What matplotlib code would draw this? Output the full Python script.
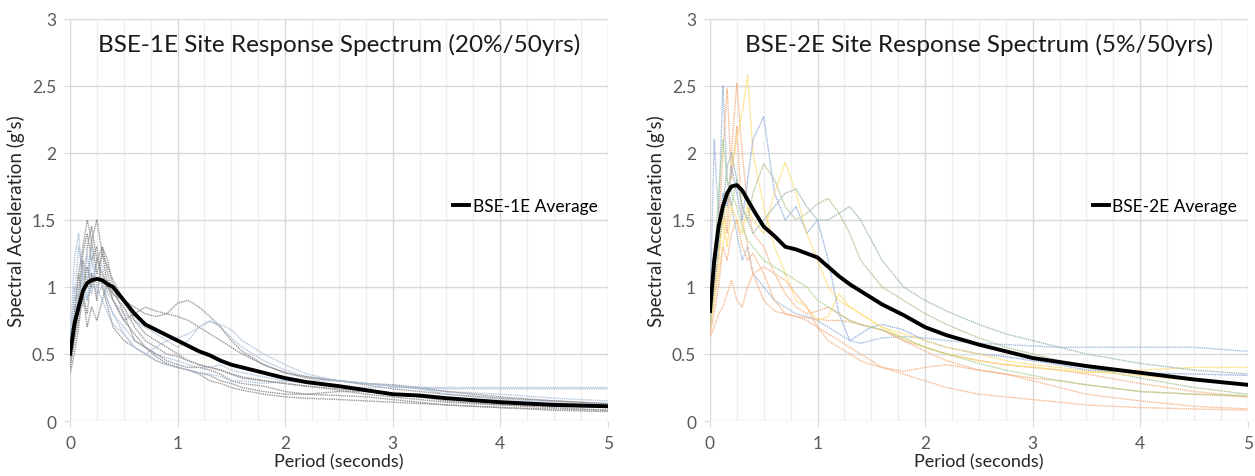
import numpy as np
import matplotlib.pyplot as plt
from matplotlib.ticker import MultipleLocator, FormatStrFormatter

plt.rcParams['font.family'] = ['Lato', 'DejaVu Sans']

# Period grid (seconds), shared by every record
period = [0, 0.04, 0.08, 0.12, 0.16, 0.2, 0.25, 0.3, 0.35, 0.4, 0.5, 0.6, 0.7,
          0.8, 0.9, 1.0, 1.1, 1.2, 1.3, 1.4, 1.5, 1.6, 1.8, 2.0, 2.2, 2.5,
          2.75, 3.0, 3.25, 3.5, 4.0, 4.5, 5.0]

# BSE-1E records (20%/50yrs)
bse1_records = [
    [0.45, 0.8, 1.1, 0.9, 1.3, 1.45, 1.2, 1.3, 1.1, 0.95, 0.85, 0.7, 0.6, 0.55, 0.5, 0.48, 0.45,
     0.42, 0.4, 0.38, 0.35, 0.33, 0.3, 0.28, 0.26, 0.24, 0.22, 0.2, 0.18, 0.17, 0.15, 0.13, 0.12],
    [0.4, 0.6, 0.9, 1.2, 1.0, 1.35, 1.5, 1.25, 1.0, 0.9, 0.75, 0.8, 0.85, 0.82, 0.8, 0.78, 0.75,
     0.7, 0.65, 0.6, 0.55, 0.5, 0.42, 0.36, 0.32, 0.3, 0.27, 0.24, 0.22, 0.2, 0.17, 0.15, 0.13],
    [0.55, 1.2, 1.4, 1.0, 0.9, 1.1, 0.95, 1.0, 0.9, 0.8, 0.7, 0.6, 0.55, 0.5, 0.47, 0.45, 0.42,
     0.4, 0.4, 0.42, 0.38, 0.36, 0.33, 0.3, 0.28, 0.26, 0.25, 0.25, 0.25, 0.25, 0.25, 0.25, 0.25],
    [0.35, 0.5, 0.7, 0.95, 0.8, 1.1, 0.9, 1.3, 1.2, 1.0, 0.8, 0.6, 0.55, 0.5, 0.45, 0.42, 0.4,
     0.4, 0.38, 0.35, 0.3, 0.28, 0.26, 0.22, 0.2, 0.19, 0.18, 0.16, 0.14, 0.12, 0.1, 0.08, 0.07],
    [0.6, 0.9, 1.3, 1.1, 1.25, 0.95, 1.2, 1.15, 0.95, 0.9, 0.8, 0.75, 0.7, 0.65, 0.6, 0.55, 0.6,
     0.7, 0.75, 0.7, 0.62, 0.55, 0.45, 0.38, 0.33, 0.3, 0.28, 0.26, 0.24, 0.22, 0.2, 0.17, 0.15],
    [0.5, 0.7, 0.95, 1.25, 1.4, 1.2, 1.3, 1.0, 0.85, 0.7, 0.6, 0.55, 0.5, 0.45, 0.42, 0.4, 0.38,
     0.35, 0.3, 0.28, 0.25, 0.23, 0.2, 0.18, 0.17, 0.16, 0.15, 0.14, 0.13, 0.12, 0.1, 0.09, 0.08],
    [0.5, 0.65, 0.8, 1.0, 1.15, 1.0, 1.2, 1.1, 1.0, 0.95, 0.9, 0.85, 0.8, 0.78, 0.8, 0.88, 0.9,
     0.85, 0.78, 0.7, 0.6, 0.52, 0.42, 0.36, 0.33, 0.3, 0.28, 0.27, 0.25, 0.22, 0.18, 0.15, 0.13],
    [0.45, 0.75, 1.0, 0.85, 1.1, 1.3, 1.0, 1.05, 0.9, 0.8, 0.65, 0.55, 0.5, 0.55, 0.6, 0.62, 0.65,
     0.7, 0.74, 0.72, 0.68, 0.6, 0.5, 0.42, 0.35, 0.3, 0.28, 0.26, 0.25, 0.24, 0.24, 0.24, 0.24],
    [0.4, 0.6, 0.75, 0.95, 0.7, 0.85, 0.75, 0.9, 1.05, 0.9, 0.75, 0.65, 0.55, 0.48, 0.43, 0.4, 0.38,
     0.36, 0.34, 0.3, 0.28, 0.25, 0.22, 0.2, 0.2, 0.22, 0.22, 0.2, 0.18, 0.15, 0.12, 0.1, 0.08],
    [0.5, 1.0, 0.85, 1.1, 0.9, 1.2, 1.0, 0.9, 0.8, 0.72, 0.65, 0.55, 0.5, 0.45, 0.42, 0.4, 0.38,
     0.36, 0.35, 0.33, 0.3, 0.3, 0.28, 0.3, 0.3, 0.3, 0.28, 0.26, 0.24, 0.2, 0.16, 0.14, 0.12],
    [0.55, 0.8, 1.1, 1.3, 1.5, 1.35, 1.1, 1.25, 1.15, 1.05, 0.9, 0.75, 0.65, 0.6, 0.55, 0.5, 0.45,
     0.42, 0.4, 0.38, 0.35, 0.32, 0.3, 0.28, 0.26, 0.23, 0.2, 0.18, 0.16, 0.14, 0.12, 0.11, 0.1],
]
bse1_colors = ["#8c8c8c", "#8c8c8c", "#a9bfd6", "#8c8c8c", "#a9bfd6", "#8c8c8c",
               "#8c8c8c", "#a9bfd6", "#8c8c8c", "#a9bfd6", "#8c8c8c"]
bse1_avg = [0.5, 0.72, 0.85, 0.97, 1.03, 1.05, 1.06, 1.05, 1.02, 1.0, 0.9, 0.8, 0.72, 0.68,
            0.64, 0.6, 0.56, 0.52, 0.49, 0.45, 0.42, 0.4, 0.36, 0.32, 0.29, 0.26, 0.23, 0.2,
            0.19, 0.17, 0.14, 0.12, 0.11]

# BSE-2E records (5%/50yrs)
bse2_records = [
    [0.8, 2.1, 1.5, 2.5, 1.8, 1.6, 1.4, 1.2, 1.3, 1.1, 1.0, 0.9, 0.85, 0.8, 0.78, 0.75, 0.7,
     0.65, 0.6, 0.58, 0.6, 0.62, 0.63, 0.62, 0.6, 0.58, 0.57, 0.56, 0.55, 0.55, 0.55, 0.55, 0.52],
    [0.7, 1.0, 1.4, 2.0, 2.48, 1.8, 2.2, 1.5, 1.3, 1.1, 0.9, 0.82, 0.8, 0.78, 0.77, 0.76, 0.75,
     0.75, 0.74, 0.72, 0.7, 0.68, 0.6, 0.52, 0.45, 0.38, 0.35, 0.32, 0.3, 0.27, 0.22, 0.2, 0.18],
    [0.65, 0.9, 1.2, 1.6, 1.4, 2.0, 2.52, 2.0, 1.6, 1.4, 1.3, 1.1, 0.95, 0.85, 0.8, 0.82, 0.85,
     0.8, 0.75, 0.72, 0.7, 0.68, 0.6, 0.55, 0.5, 0.45, 0.42, 0.4, 0.38, 0.35, 0.28, 0.22, 0.18],
    [0.7, 0.9, 1.1, 1.3, 1.6, 1.9, 2.1, 2.3, 2.58, 2.0, 1.6, 1.3, 1.1, 0.9, 0.85, 0.75, 0.78,
     0.95, 0.85, 0.8, 0.75, 0.7, 0.62, 0.55, 0.5, 0.45, 0.42, 0.4, 0.38, 0.36, 0.38, 0.4, 0.4],
    [0.8, 1.1, 1.4, 1.7, 1.6, 1.9, 1.7, 1.5, 1.8, 2.1, 2.27, 1.7, 1.5, 1.6, 1.4, 1.5, 1.2,
     0.8, 0.6, 0.65, 0.7, 0.72, 0.68, 0.6, 0.55, 0.5, 0.48, 0.45, 0.42, 0.38, 0.36, 0.35, 0.34],
    [0.75, 1.1, 1.3, 1.5, 1.7, 1.6, 1.8, 1.6, 1.5, 1.7, 1.92, 1.8, 1.6, 1.5, 1.55, 1.62, 1.66,
     1.55, 1.4, 1.2, 1.1, 1.0, 0.9, 0.8, 0.72, 0.62, 0.55, 0.5, 0.45, 0.4, 0.32, 0.25, 0.2],
    [0.7, 1.0, 1.2, 1.5, 1.3, 1.6, 1.5, 1.4, 1.6, 1.5, 1.4, 1.7, 1.93, 1.7, 1.4, 1.2, 1.0,
     0.9, 0.85, 0.8, 0.75, 0.7, 0.65, 0.6, 0.55, 0.5, 0.45, 0.42, 0.4, 0.37, 0.34, 0.3, 0.28],
    [0.7, 1.0, 1.3, 1.6, 1.9, 2.0, 1.8, 1.6, 1.5, 1.4, 1.5, 1.6, 1.7, 1.73, 1.6, 1.5, 1.5,
     1.55, 1.6, 1.5, 1.35, 1.2, 1.0, 0.9, 0.82, 0.72, 0.65, 0.6, 0.55, 0.5, 0.43, 0.38, 0.35],
    [0.62, 0.7, 0.8, 0.85, 0.95, 1.05, 0.9, 0.85, 1.0, 1.1, 1.15, 1.1, 1.05, 0.95, 0.85, 0.7, 0.6,
     0.55, 0.5, 0.45, 0.42, 0.4, 0.37, 0.4, 0.42, 0.38, 0.35, 0.3, 0.25, 0.2, 0.15, 0.11, 0.09],
    [0.65, 0.8, 1.0, 1.3, 1.2, 1.4, 1.5, 1.3, 1.2, 1.25, 1.1, 0.9, 0.8, 0.78, 0.75, 0.7, 0.65,
     0.6, 0.55, 0.5, 0.45, 0.4, 0.35, 0.3, 0.25, 0.2, 0.18, 0.16, 0.14, 0.12, 0.1, 0.09, 0.08],
    [0.8, 1.2, 1.7, 2.1, 1.8, 1.7, 1.6, 1.45, 1.35, 1.3, 1.2, 1.15, 1.1, 1.05, 1.0, 0.9, 0.85,
     0.8, 0.75, 0.72, 0.7, 0.68, 0.62, 0.55, 0.5, 0.43, 0.38, 0.34, 0.3, 0.27, 0.22, 0.2, 0.19],
]
bse2_colors = ["#9bb5d9", "#f4b183", "#f4b183", "#ffd966", "#8faadc", "#a9c08e",
               "#ffd966", "#9ab7b0", "#f4b183", "#f4b183", "#a9d18e"]
bse2_avg = [0.82, 1.2, 1.45, 1.6, 1.7, 1.75, 1.76, 1.72, 1.65, 1.58, 1.45, 1.38, 1.3, 1.28,
            1.25, 1.22, 1.15, 1.08, 1.02, 0.97, 0.92, 0.87, 0.79, 0.7, 0.64, 0.57, 0.52, 0.47,
            0.44, 0.41, 0.36, 0.31, 0.27]

panels = [
    ("BSE-1E Site Response Spectrum (20%/50yrs)", bse1_records, bse1_colors, bse1_avg, "BSE-1E Average"),
    ("BSE-2E Site Response Spectrum (5%/50yrs)", bse2_records, bse2_colors, bse2_avg, "BSE-2E Average"),
]

fig = plt.figure(figsize=(12.55, 4.77), dpi=100)
lefts = [0.0558, 0.5657]

for left, (title, records, colors, avg, avg_label) in zip(lefts, panels):
    ax = fig.add_axes([left, 0.1153, 0.4285, 0.843])
    for rec, c in zip(records, colors):
        ax.plot(period, rec, color=c, lw=1.0, ls=(0, (1, 0.6)), alpha=0.9)
    ax.plot(period, avg, color="black", lw=2.8, label=avg_label, zorder=5)

    ax.set_xlim(0, 5)
    ax.set_ylim(0, 3)
    ax.xaxis.set_major_locator(MultipleLocator(1))
    ax.xaxis.set_minor_locator(MultipleLocator(0.25))
    ax.set_yticks([0, 0.5, 1, 1.5, 2, 2.5, 3])
    ax.yaxis.set_major_formatter(FormatStrFormatter("%g"))
    ax.grid(which="major", color="#d9d9d9", lw=1.0)
    ax.grid(which="minor", axis="x", color="#eeeeee", lw=1.0)
    ax.set_axisbelow(True)
    for s in ax.spines.values():
        s.set_visible(False)
    ax.tick_params(which="major", length=4, color="#d9d9d9", labelcolor="#595959",
                   labelsize=12.5, pad=6)
    ax.tick_params(which="minor", length=0)

    ax.text(0.5, 0.938, title, transform=ax.transAxes, ha="center", va="center",
            fontsize=17.5, color="#1a1a1a")
    ax.set_xlabel("Period (seconds)", fontsize=13, color="#262626", labelpad=2)
    ax.set_ylabel("Spectral Acceleration (g's)", fontsize=13.5, color="#262626", labelpad=5)
    ax.legend(loc="center right", bbox_to_anchor=(1.0, 0.535), frameon=False,
              handlelength=0.9, handletextpad=0.2, fontsize=12.5, borderaxespad=0.2)

fig.savefig("out.png", dpi=100)
